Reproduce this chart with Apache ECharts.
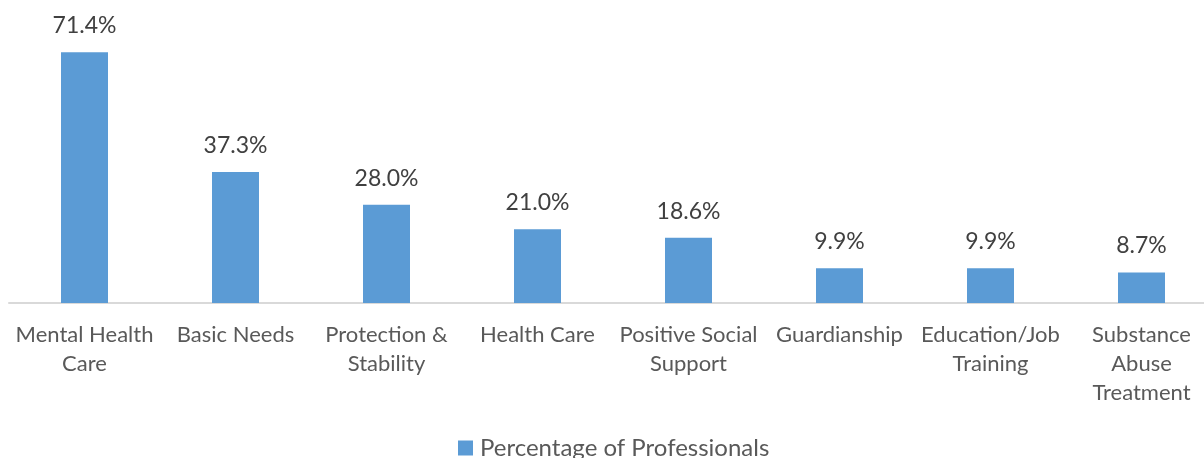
<!DOCTYPE html>
<html>
<head>
<meta charset="utf-8">
<script src="https://cdn.jsdelivr.net/npm/echarts@6/dist/echarts.min.js"></script>
<style>
html, body { margin: 0; padding: 0; background: #fff; overflow: hidden; }
/* the plot runs past the right edge in the original, so the canvas is a bit wider than the window */
#main { width: 1217px; height: 458px; }
</style>
</head>
<body>
<div id="main"></div>
<script>
var categories = ['Mental Health\nCare', 'Basic Needs', 'Protection &\nStability', 'Health Care',
	'Positive Social\nSupport', 'Guardianship', 'Education/Job\nTraining', 'Substance\nAbuse\nTreatment'];
var percentages = [71.4, 37.3, 28.0, 21.0, 18.6, 9.9, 9.9, 8.7];
var seriesName = 'Percentage of Professionals';

var font = 'Lato, "Open Sans", sans-serif';
var chart = echarts.init(document.getElementById('main'));

chart.setOption({
	backgroundColor: '#fff',
	animation: false,
	grid: { left: 9, top: 22, width: 1208, height: 281, containLabel: false },
	legend: {
		data: [seriesName],
		top: 431,
		left: 453,
		icon: 'rect',
		itemWidth: 15,
		itemHeight: 15,
		itemGap: 8,
		textStyle: { color: '#595959', fontSize: 24, fontFamily: font, padding: [0, 0, 0, 2] }
	},
	xAxis: {
		type: 'category',
		data: categories,
		axisLine: { lineStyle: { color: '#d9d9d9', width: 2 } },
		axisTick: { show: false },
		axisLabel: {
			color: '#595959', fontSize: 22, fontFamily: font,
			lineHeight: 29, margin: 17, interval: 0
		}
	},
	yAxis: {
		type: 'value', min: 0, max: 80, show: false,
		splitLine: { show: false }
	},
	series: [{
		name: seriesName,
		type: 'bar',
		data: percentages,
		barWidth: 47,
		itemStyle: { color: '#5b9bd5' },
		label: {
			show: true, position: 'top', distance: 15,
			color: '#404040', fontSize: 23, fontFamily: font,
			formatter: function (p) { return p.value.toFixed(1) + '%'; }
		}
	}]
});
</script>
</body>
</html>
